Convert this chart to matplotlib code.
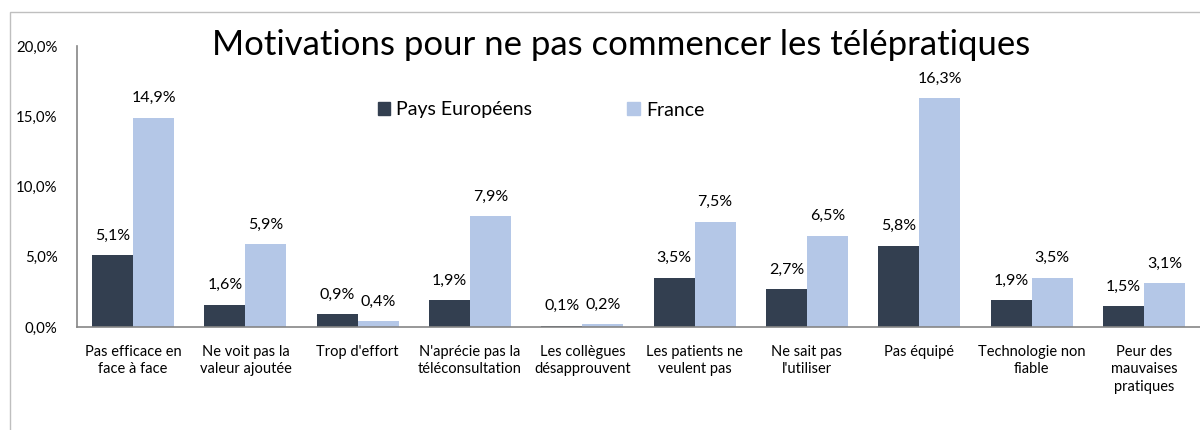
import matplotlib
matplotlib.use("Agg")
import matplotlib.pyplot as plt
from matplotlib.patches import Rectangle, Patch
import numpy as np

categories = ["Pas efficace en\nface à face", "Ne voit pas la\nvaleur ajoutée", "Trop d'effort",
              "N'aprécie pas la\ntéléconsultation", "Les collègues\ndésapprouvent",
              "Les patients ne\nveulent pas", "Ne sait pas\nl'utiliser", "Pas équipé",
              "Technologie non\nfiable", "Peur des\nmauvaises\npratiques"]
europe = [5.1, 1.6, 0.9, 1.9, 0.1, 3.5, 2.7, 5.8, 1.9, 1.5]
france = [14.9, 5.9, 0.4, 7.9, 0.2, 7.5, 6.5, 16.3, 3.5, 3.1]
series_names = ["Pays Européens", "France"]
yticks = [0, 5, 10, 15, 20]

plt.rcParams['font.family'] = ['Lato', 'DejaVu Sans']
c_dark = "#333F50"
c_light = "#B4C7E7"

fig = plt.figure(figsize=(12, 4.3), dpi=100)
fig.patches.append(Rectangle((10/1200, -0.1), 1.2, 0.1 + (430-12)/430, transform=fig.transFigure,
                             fill=False, edgecolor="#BFBFBF", linewidth=1))
ax = fig.add_axes([77/1200, (430-327)/430, 1 - 77/1200, (327-46)/430])

x = np.arange(len(categories))
w = 0.365
b1 = ax.bar(x - w/2, europe, w, color=c_dark)
b2 = ax.bar(x + w/2, france, w, color=c_light)
for bars, vals in ((b1, europe), (b2, france)):
    for r, v in zip(bars, vals):
        ax.annotate(f"{v:.1f}%".replace(".", ","), (r.get_x() + r.get_width()/2, v),
                    xytext=(0, 9), textcoords="offset points", ha="center", va="bottom",
                    fontsize=11.5, color="#000000")

ax.set_xlim(-0.5, len(categories) - 0.5)
ax.set_ylim(0, 20)
ax.set_yticks(yticks)
ax.set_yticklabels([f"{t:.1f}%".replace(".", ",") for t in yticks], fontsize=10.8)
ax.set_xticks(x)
ax.set_xticklabels(categories, fontsize=10.5, linespacing=1.3, va="top")
ax.tick_params(axis="both", length=0)
ax.tick_params(axis="x", pad=13)
ax.tick_params(axis="y", pad=14)
for s in ("top", "right"):
    ax.spines[s].set_visible(False)
for s in ("left", "bottom"):
    ax.spines[s].set_color("#868686")
    ax.spines[s].set_linewidth(1.2)

fig.text(621/1200, (430-45)/430, "Motivations pour ne pas commencer les télépratiques",
         ha="center", va="center", fontsize=25, color="#000000")

handles = [Patch(color=c_dark), Patch(color=c_light)]
leg = ax.legend(handles, series_names, ncol=2, loc="center", frameon=False, fontsize=14,
                handlelength=0.65, handleheight=0.65, handletextpad=0.3, columnspacing=4.9)
leg.set_bbox_to_anchor((541/1200, (430-110)/430), transform=fig.transFigure)

fig.savefig("out.png", dpi=100)
